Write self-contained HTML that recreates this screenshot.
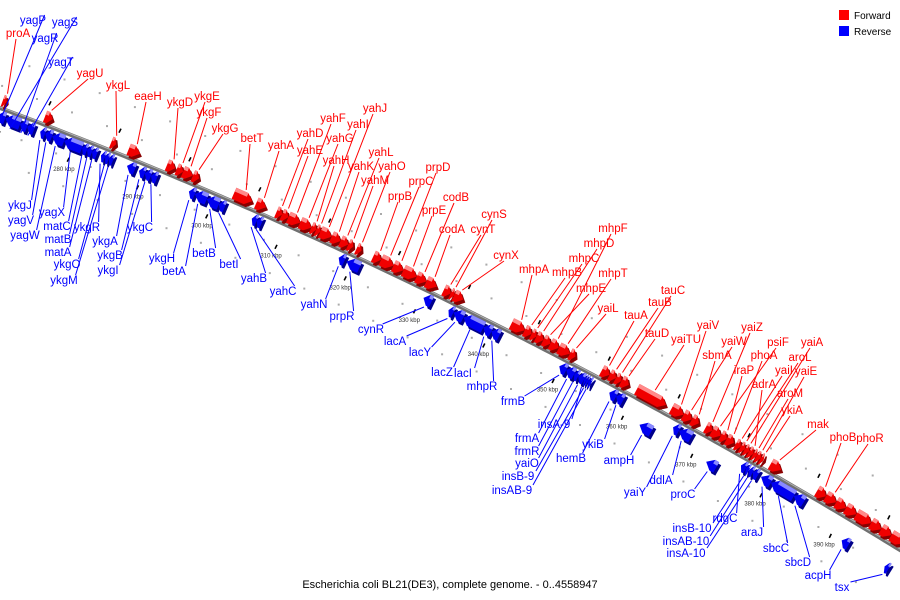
<!DOCTYPE html>
<html><head><meta charset="utf-8"><style>
html,body{margin:0;padding:0;background:#fff;}
svg{display:block;font-family:"Liberation Sans",sans-serif;}
</style></head><body>
<svg id="map" width="900" height="600" viewBox="0 0 900 600">
<g id="grid"></g>
<g id="backbone-g"></g>
<g id="genes"></g>
<g id="leaders"></g>
<g id="labels"></g>
<g>
<rect x="839" y="10" width="10" height="10" fill="#ff0000"/>
<text x="854" y="19" font-size="10" fill="#000">Forward</text>
<rect x="839" y="26" width="10" height="10" fill="#0000ff"/>
<text x="854" y="35" font-size="10" fill="#000">Reverse</text>
</g>
<text x="450" y="588" font-size="11" text-anchor="middle" fill="#000">Escherichia coli BL21(DE3), complete genome. - 0..4558947</text>
</svg>
<script>
// ---- data (kbp) ----
const fwdNames=["proA","yagU","ykgL","eaeH","ykgD","ykgE","ykgF","ykgG","betT","yahA","yahD","yahE","yahF","yahG","yahH","yahI","yahJ","yahK","yahL","yahM","yahO","prpB","prpC","prpD","prpE","codB","codA","cynT","cynS","cynX","mhpA","mhpB","mhpC","mhpD","mhpE","mhpF","mhpT","yaiL","tauA","tauB","tauC","tauD","yaiTU","yaiV","yaiW","sbmA","yaiZ","psiF","iraP","phoA","yaiI","aroL","yaiA","adrA","aroM","yaiE","ykiA","mak","phoB","phoR","f1","f2","f3","f4","f5","f6"];
const fwdStart=[268.94,275.0,284.5,287.0,292.5,293.9,294.8,296.2,302.1,305.3,308.2,309.0,309.9,311.6,313.2,313.9,314.5,316.1,317.4,318.5,319.7,322.1,323.2,324.98,326.4,328.3,329.7,332.2,333.2,333.7,341.9,343.8,344.8,345.5,346.5,347.5,348.7,350.3,354.86,356.0,356.9,357.7,359.9,364.9,366.6,367.8,369.8,370.7,371.96,372.8,374.1,374.8,375.4,375.98,376.6,377.1,377.7,379.1,385.75,387.04,388.5,389.9,391.4,393.5,394.95,396.4];
const fwdEnd=[269.5,276.1,285.2,288.6,293.65,294.8,296.2,297.1,304.7,306.7,309.0,309.9,311.6,313.2,313.9,314.5,316.1,317.4,318.5,319.2,320.4,323.2,324.98,326.4,328.3,329.7,331.2,333.2,333.7,335.0,343.8,344.8,345.5,346.5,347.5,348.7,350.3,351.1,356.0,356.9,357.7,358.74,364.06,366.6,367.8,368.8,370.7,371.96,372.8,373.8,374.8,375.4,375.98,376.6,377.1,377.7,378.1,380.6,387.04,388.5,389.9,391.4,393.5,394.95,396.4,398.25];
const revNames=["yagP","yagS","yagR","yagT","ykgJ","yagV","yagW","yagX","matC","matB","matA","ykgR","ykgO","ykgM","ykgA","ykgB","ykgI","ykgC","ykgH","betA","betB","betI","yahB","yahC","yahN","prpR","cynR","lacA","lacY","lacZ","lacI","mhpR","frmB","frmA","frmR","yaiO","insA-9","insB-9","insAB-9","hemB","ykiB","ampH","yaiY","ddlA","proC","rdgC","insB-10","insAB-10","insA-10","araJ","sbcC","sbcD","acpH","tsx"];
const revStart=[268.94,270.09,272.24,273.25,275.12,275.84,276.84,278.57,281.15,281.87,282.59,283.88,284.46,285.03,287.62,289.34,290.2,291.07,296.53,297.39,299.11,300.84,305.58,306.3,318.08,319.23,330.29,333.88,334.6,336.04,338.91,340.06,349.83,350.84,351.99,352.56,353.42,353.71,354.0,357.02,358.02,362.33,366.21,367.07,371.96,375.98,376.7,377.13,377.7,378.85,380.29,383.59,391.5,397.68];
const revEnd=[270.09,272.24,273.25,274.26,275.84,276.84,278.57,281.15,281.87,282.59,283.31,284.46,285.03,285.61,288.77,290.2,291.07,291.93,297.39,299.11,300.84,301.7,306.3,307.01,318.94,321.1,331.44,334.6,336.04,338.91,340.06,341.21,350.84,351.99,352.56,353.42,353.71,354.0,354.43,358.02,359.03,364.06,367.07,368.8,373.4,376.7,377.13,377.7,378.42,380.29,383.59,385.03,392.5,398.25];
const revRow=[0,0,0,0,0,0,0,0,0,0,0,0,0,0,0,0,0,0,0,0,0,0,0,0,0,0,0,0,0,0,0,0,0,0,0,0,0,0,0,0,0,1,0,0,1,0,0,0,0,0,0,0,1,1];
const tickKbp=[280,290,300,310,320,330,340,350,360,370,380,390];
const tickLabels=["280 kbp","290 kbp","300 kbp","310 kbp","320 kbp","330 kbp","340 kbp","350 kbp","360 kbp","370 kbp","380 kbp","390 kbp"];
// label layout (screen positions of label text centres)
const fwdLabelPos={proA:[18,33],yagU:[90,73],ykgL:[118,85],eaeH:[148,96],ykgD:[180,102],ykgE:[207,96],ykgF:[209,112],ykgG:[225,128],betT:[252,138],yahA:[281,145],yahF:[333,118],yahJ:[375,108],yahI:[358,124],yahD:[310,133],yahG:[340,138],yahE:[310,150],yahH:[336,160],yahL:[381,152],yahK:[361,166],yahO:[392,166],yahM:[375,180],prpB:[400,196],prpC:[421,181],prpD:[438,167],prpE:[434,210],codB:[456,197],codA:[452,229],cynS:[494,214],cynT:[483,229],cynX:[506,255],mhpA:[534,269],mhpF:[613,228],mhpD:[599,243],mhpC:[584,258],mhpB:[567,272],mhpT:[613,273],mhpE:[591,288],yaiL:[608,308],tauC:[673,290],tauB:[660,302],tauA:[636,315],tauD:[657,333],yaiTU:[686,339],yaiV:[708,325],yaiZ:[752,327],yaiW:[734,341],sbmA:[717,355],psiF:[778,342],yaiA:[812,342],phoA:[764,355],aroL:[800,357],iraP:[744,370],yaiI:[784,370],yaiE:[806,371],adrA:[764,384],aroM:[790,393],ykiA:[792,410],mak:[818,424],phoB:[843,437],phoR:[870,438]};
const revLabelPos={yagP:[33,20],yagS:[65,22],yagR:[45,38],yagT:[61,62],ykgJ:[20,205],yagV:[21,220],yagW:[25,235],yagX:[52,212],matC:[57,226],matB:[58,239],matA:[58,252],ykgO:[67,264],ykgM:[64,280],ykgR:[87,227],ykgA:[105,241],ykgB:[110,255],ykgI:[108,270],ykgC:[140,227],ykgH:[162,258],betA:[174,271],betB:[204,253],betI:[229,264],yahB:[254,278],yahC:[283,291],yahN:[314,304],prpR:[342,316],cynR:[371,329],lacA:[395,341],lacY:[420,352],lacZ:[442,372],lacI:[463,373],mhpR:[482,386],frmB:[513,401],"insA-9":[554,424],frmA:[527,438],frmR:[527,451],yaiO:[527,463],"insB-9":[518,476],"insAB-9":[512,490],hemB:[571,458],ykiB:[593,444],ampH:[619,460],ddlA:[661,480],yaiY:[635,492],proC:[683,494],rdgC:[725,518],"insB-10":[692,528],"insAB-10":[686,541],"insA-10":[686,553],araJ:[752,532],sbcC:[776,548],sbcD:[798,562],acpH:[818,575],tsx:[842,587]};

// ---- axis functions ----
const KB0=268.94, PXK=6.96;
function X(k){return (k-KB0)*PXK;}
function Yc(x){return 108+0.3707*x+1.338e-4*x*x;}
function pt(k,v){const x=X(k),y=Yc(x),d=0.3707+2*1.338e-4*x,L=Math.sqrt(1+d*d);return [x+(d/L)*v,y-(1/L)*v];}
const NS="http://www.w3.org/2000/svg";
function mk(tag,attrs,parent){const e=document.createElementNS(NS,tag);for(const a in attrs)e.setAttribute(a,attrs[a]);parent.appendChild(e);return e;}
function polyStr(arr,dx,dy){return arr.map(p=>{const q=pt(p[0],p[1]);return (q[0]+(dx||0)).toFixed(1)+","+(q[1]+(dy||0)).toFixed(1);}).join(" ");}

const grid=document.getElementById("grid"), bb=document.getElementById("backbone-g"), genesG=document.getElementById("genes"), leadG=document.getElementById("leaders"), labG=document.getElementById("labels");

// background dots
for(let k=268;k<=399;k+=5){
  [22,50,-22,-50].forEach((v,i)=>{
    const kk=k+(i%2)*2.5;const p=pt(kk,v);
    if(p[0]<0||p[0]>900||p[1]<0||p[1]>600)return;
    const r=mk("rect",{x:p[0].toFixed(1),y:p[1].toFixed(1),width:2,height:2,fill:"#aaa"},grid);
    
    
  });
}
// black dashes
for(let k=270;k<=399;k+=5){
  const v=(Math.round(k/5)%2===0)?-24:22;const p=pt(k,v);
  const l=mk("line",{x1:(p[0]-1).toFixed(1),y1:(p[1]+2).toFixed(1),x2:(p[0]+1).toFixed(1),y2:(p[1]-2).toFixed(1),stroke:"#000","stroke-width":1.6},grid);
  
  
}
// backbone
let d="";for(let x=-5;x<=905;x+=5){d+=(x===-5?"M":"L")+x+","+Yc(x).toFixed(1);}
const bl=mk("path",{d:d,stroke:"#707070","stroke-width":4,fill:"none"},bb);


const bh=mk("path",{d:d,stroke:"#b0b0b0","stroke-width":1,fill:"none",transform:"translate(0,-1)"},bb);


// tick labels
tickKbp.forEach((k,i)=>{
  const p=pt(k,-36);
  const t=mk("text",{x:p[0].toFixed(1),y:p[1].toFixed(1),"font-size":6,"text-anchor":"middle",fill:"#333"},grid);
  t.textContent=tickLabels[i];
  
  
});

const H=12, GAP=2, HEADPX=6;
function drawGene(s,e,fwd,row,name){
  const g=mk("g",{},genesG);
  
  
  let hk=HEADPX/PXK; if(e-s<hk*1.6)hk=(e-s)*0.6;
  const off=row*14;
  let v0,v1; if(fwd){v0=GAP+off;v1=GAP+off+H;}else{v0=-(GAP+off);v1=-(GAP+off+H);}
  const mid=(v0+v1)/2, vu=Math.max(v0,v1);
  let shape, strip;
  if(fwd){shape=[[s,v0],[e-hk,v0],[e,mid],[e-hk,v1],[s,v1]];strip=[[s,vu],[e-hk,vu],[e-hk,vu-4],[s,vu-4]];}
  else{shape=[[e,v0],[s+hk,v0],[s,mid],[s+hk,v1],[e,v1]];strip=[[s+hk,vu],[e,vu],[e,vu-4],[s+hk,vu-4]];}
  const cMain=fwd?"#f00000":"#0000f0", cDark=fwd?"#8a0000":"#00008a", cLight=fwd?"#ff8a8a":"#8a8aff";
  const sh=mk("polygon",{points:polyStr(shape,2,3),fill:cDark},g);
  
  
  const m=mk("polygon",{points:polyStr(shape),fill:cMain},g);
  
  
  const lt=mk("polygon",{points:polyStr(strip),fill:cLight},g);
  
  
  return pt((s+e)/2, fwd? v1+2 : v1-2);
}
function drawLabel(name,text,pos,anchorPt,fwd){
  const col=fwd?"#ff0000":"#0000ff";
  const w=text.length*6.3;
  let sx,sy; if(fwd){sx=pos[0]-2;sy=pos[1]+6;}else{sx=pos[0]+w/2-1;sy=pos[1]-5;}
  const l=mk("line",{x1:sx.toFixed(1),y1:sy.toFixed(1),x2:anchorPt[0].toFixed(1),y2:anchorPt[1].toFixed(1),stroke:col,"stroke-width":1},leadG);
  
  
  const t=mk("text",{x:pos[0],y:pos[1]+4,"font-size":11.5,"text-anchor":"middle",fill:col},labG);
  t.textContent=text;
  
  
}
fwdNames.forEach((n,i)=>{
  const a=drawGene(fwdStart[i],fwdEnd[i],true,0,n);
  if(fwdLabelPos[n])drawLabel(n,n,fwdLabelPos[n],a,true);
});
revNames.forEach((n,i)=>{
  const a=drawGene(revStart[i],revEnd[i],false,revRow[i],n);
  if(revLabelPos[n])drawLabel(n,n,revLabelPos[n],a,false);
});
</script>
</body></html>
